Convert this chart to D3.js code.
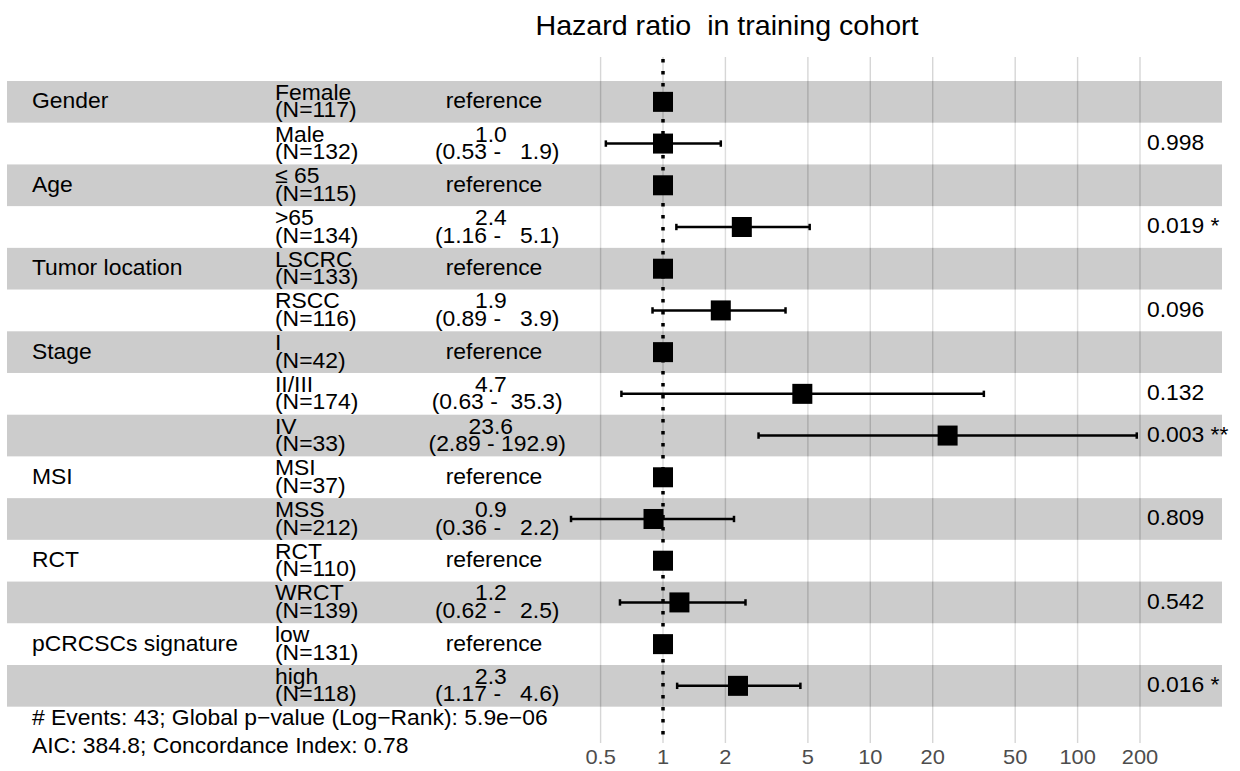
<!DOCTYPE html>
<html>
<head>
<meta charset="utf-8">
<script src="https://cdn.jsdelivr.net/npm/d3@7"></script>
<style>
body { margin: 0; background: #fff; }
text { font-family: "Liberation Sans", Arial, Helvetica, sans-serif; white-space: pre; }
</style>
</head>
<body>
<script>
// forest plot of the cox model, one entry per row
var variables = ["Gender", "", "Age", "", "Tumor location", "", "Stage", "", "", "MSI", "", "RCT", "", "pCRCSCs signature", ""];
var levels = ["Female", "Male", "\u2264 65", ">65", "LSCRC", "RSCC", "I", "II/III", "IV", "MSI", "MSS", "RCT", "WRCT", "low", "high"];
var counts = [117, 132, 115, 134, 133, 116, 42, 174, 33, 37, 212, 110, 139, 131, 118];
var hr = [1, 1.0, 1, 2.4, 1, 1.9, 1, 4.7, 23.6, 1, 0.9, 1, 1.2, 1, 2.3];
var ciLow = [null, 0.53, null, 1.16, null, 0.89, null, 0.63, 2.89, null, 0.36, null, 0.62, null, 1.17];
var ciHigh = [null, 1.9, null, 5.1, null, 3.9, null, 35.3, 192.9, null, 2.2, null, 2.5, null, 4.6];
var pvals = ["", "0.998", "", "0.019 *", "", "0.096", "", "0.132", "0.003 **", "", "0.809", "", "0.542", "", "0.016 *"];
var ticks = [0.5, 1, 2, 5, 10, 20, 50, 100, 200];
var title = "Hazard ratio  in training cohort";
var footer = ["# Events: 43; Global p\u2212value (Log\u2212Rank): 5.9e\u221206",
              "AIC: 384.8; Concordance Index: 0.78"];

var width = 1240, height = 771;
var svg = d3.select("body").append("svg")
    .attr("width", width)
    .attr("height", height);

var x = d3.scaleLog().domain([0.5, 200]).range([600.6, 1140]);
var y = d3.scaleBand().domain(d3.range(levels.length)).range([81, 706.7]);
var rowMid = i => y(i) + y.bandwidth() / 2;

var panelTop = 57, panelBottom = 743;
var fs = 22, sx = 1.04;   // text in the original is a little wider than the font
var place = (px, py) => "translate(" + px + "," + py + ") scale(" + sx + ",1)";

// grid
svg.append("g")
  .selectAll("line")
  .data(ticks)
  .enter().append("line")
    .attr("x1", d => x(d)).attr("x2", d => x(d))
    .attr("y1", panelTop).attr("y2", panelBottom)
    .attr("stroke", "#d6d6d6")
    .attr("stroke-width", 1.4);

// row bands
svg.append("g")
  .selectAll("rect")
  .data(levels)
  .enter().append("rect")
    .attr("x", 7)
    .attr("width", 1222 - 7)
    .attr("y", (d, i) => y(i))
    .attr("height", y.bandwidth())
    .attr("fill", (d, i) => i % 2 == 0 ? "rgba(0,0,0,0.2)" : "rgba(255,255,255,0.2)");

// reference line at 1
svg.append("line")
    .attr("x1", x(1)).attr("x2", x(1))
    .attr("y1", panelTop + 2).attr("y2", panelBottom)
    .attr("stroke", "#000")
    .attr("stroke-width", 3.5)
    .attr("stroke-dasharray", "3.5 8.5");

// error bars
var bars = svg.append("g")
    .attr("stroke", "#000")
    .attr("stroke-width", 2.5)
  .selectAll("g")
  .data(d3.range(levels.length).filter(i => ciLow[i] != null))
  .enter().append("g");

bars.append("line")
    .attr("x1", i => x(ciLow[i])).attr("x2", i => x(ciHigh[i]))
    .attr("y1", rowMid).attr("y2", rowMid);
bars.append("line")
    .attr("x1", i => x(ciLow[i])).attr("x2", i => x(ciLow[i]))
    .attr("y1", i => rowMid(i) - 3.2).attr("y2", i => rowMid(i) + 3.2);
bars.append("line")
    .attr("x1", i => x(ciHigh[i])).attr("x2", i => x(ciHigh[i]))
    .attr("y1", i => rowMid(i) - 3.2).attr("y2", i => rowMid(i) + 3.2);

// points
var sq = 20;
svg.append("g")
  .selectAll("rect")
  .data(hr)
  .enter().append("rect")
    .attr("x", d => x(d) - sq / 2)
    .attr("y", (d, i) => rowMid(i) - sq / 2)
    .attr("width", sq)
    .attr("height", sq)
    .attr("fill", "#000");

// table text
var txt = svg.append("g").attr("font-size", fs).attr("fill", "#000");

txt.selectAll(".var")
  .data(variables)
  .enter().append("text")
    .attr("transform", (d, i) => place(32, rowMid(i) + 6.5))
    .text(d => d);

var lev = txt.selectAll(".lev")
  .data(levels)
  .enter().append("text")
    .attr("transform", (d, i) => place(275, rowMid(i)));
lev.append("tspan")
    .attr("x", 0).attr("y", -2)
    .text(d => d);
lev.append("tspan")
    .attr("x", 0).attr("y", 15.5)
    .text((d, i) => "(N=" + counts[i] + ")");

var est = txt.selectAll(".est")
  .data(hr)
  .enter().append("text")
    .attr("text-anchor", "middle")
    .attr("transform", (d, i) => place(494, rowMid(i)));
est.each(function(d, i) {
  var t = d3.select(this);
  if (ciLow[i] == null) {
    t.append("tspan").attr("x", 0).attr("y", 6.5).text("reference");
  } else {
    t.append("tspan").attr("x", 0).attr("y", -2).text(d.toFixed(1) + " ");
    t.append("tspan").attr("x", 0).attr("y", 15.5)
      .text(" (" + String(ciLow[i]) + " - " + String(ciHigh[i]).padStart(5, " ") + ")");
  }
});

txt.selectAll(".pv")
  .data(pvals)
  .enter().append("text")
    .attr("transform", (d, i) => place(1147, rowMid(i) + 6.5))
    .text(d => d);

// footer notes
txt.selectAll(".foot")
  .data(footer)
  .enter().append("text")
    .attr("transform", (d, i) => place(32, 725 + i * 27.7))
    .text(d => d);

// x axis labels
svg.append("g")
    .attr("font-size", 21)
    .attr("fill", "#4d4d4d")
    .attr("text-anchor", "middle")
  .selectAll("text")
  .data(ticks)
  .enter().append("text")
    .attr("transform", d => place(x(d), 764))
    .text(d => d);

// title
svg.append("text")
    .attr("transform", place(727, 35))
    .attr("font-size", 27.5)
    .attr("text-anchor", "middle")
    .text(title);
</script>
</body>
</html>
